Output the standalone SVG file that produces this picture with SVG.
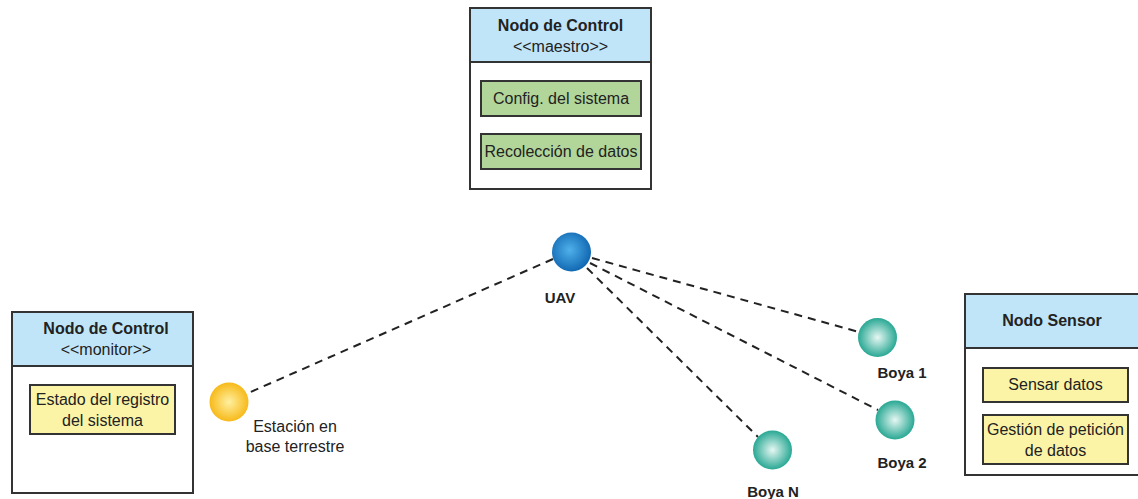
<svg xmlns="http://www.w3.org/2000/svg" width="1138" height="499" viewBox="0 0 1138 499">
  <style>
    .frame { fill: #ffffff; stroke: #333333; stroke-width: 2; }
    .head { fill: #c0e5f8; stroke: #333333; stroke-width: 2; }
    .green { fill: #b2d69a; stroke: #333333; stroke-width: 2; }
    .yellow { fill: #fbf4a6; stroke: #333333; stroke-width: 2; }
    .title { font-family: "Liberation Sans", Arial, sans-serif; font-size: 16px; font-weight: bold; fill: #222222; text-anchor: middle; }
    .txt { font-family: "Liberation Sans", Arial, sans-serif; font-size: 16px; fill: #222222; text-anchor: middle; }
    .lbl { font-family: "Liberation Sans", Arial, sans-serif; font-size: 15px; font-weight: bold; fill: #222222; text-anchor: middle; }
    .link { stroke: #222222; stroke-width: 2; stroke-dasharray: 8 6; fill: none; }
  </style>
  <defs>
    <radialGradient id="gBlue" cx="0.45" cy="0.45" r="0.55">
      <stop offset="0" stop-color="#4fb0ea"/>
      <stop offset="1" stop-color="#1269b3"/>
    </radialGradient>
    <radialGradient id="gSun" cx="0.5" cy="0.5" r="0.55">
      <stop offset="0" stop-color="#fff0a0"/>
      <stop offset="1" stop-color="#f6b40c"/>
    </radialGradient>
    <radialGradient id="gSea" cx="0.5" cy="0.5" r="0.55">
      <stop offset="0" stop-color="#e6f7f3"/>
      <stop offset="1" stop-color="#16a08a"/>
    </radialGradient>
  </defs>

  <!-- dashed wireless links from the UAV -->
  <g id="connectors">
    <line class="link" x1="553" y1="259" x2="246" y2="394"/>
    <line class="link" x1="592" y1="258" x2="859" y2="332"/>
    <line class="link" x1="590" y1="263" x2="878" y2="410"/>
    <line class="link" x1="587" y1="268" x2="758" y2="437"/>
  </g>

  <!-- master control node -->
  <g id="nodo-control-maestro">
    <rect class="frame" x="470" y="8" width="181" height="181"/>
    <rect class="head" x="470" y="8" width="181" height="54"/>
    <text class="title" x="560.5" y="31">Nodo de Control</text>
    <text class="txt" x="560.5" y="52">&lt;&lt;maestro&gt;&gt;</text>
    <rect class="green" x="481" y="81" width="160" height="35"/>
    <text class="txt" x="561" y="104">Config. del sistema</text>
    <rect class="green" x="481" y="134" width="160" height="35"/>
    <text class="txt" x="561" y="157">Recolección de datos</text>
  </g>

  <!-- monitor control node -->
  <g id="nodo-control-monitor">
    <rect class="frame" x="12" y="312" width="181" height="181"/>
    <rect class="head" x="12" y="312" width="181" height="54"/>
    <text class="title" x="106" y="334">Nodo de Control</text>
    <text class="txt" x="106" y="355">&lt;&lt;monitor&gt;&gt;</text>
    <rect class="yellow" x="30" y="385" width="145" height="49"/>
    <text class="txt" x="102.5" y="405">Estado del registro</text>
    <text class="txt" x="102.5" y="426">del sistema</text>
  </g>

  <!-- sensor node -->
  <g id="nodo-sensor">
    <rect class="frame" x="965" y="294" width="180" height="181"/>
    <rect class="head" x="965" y="294" width="180" height="54"/>
    <text class="title" x="1052" y="326">Nodo Sensor</text>
    <rect class="yellow" x="983" y="368" width="145" height="34"/>
    <text class="txt" x="1055.5" y="390">Sensar datos</text>
    <rect class="yellow" x="983" y="415" width="145" height="49"/>
    <text class="txt" x="1055.5" y="435">Gestión de petición</text>
    <text class="txt" x="1055.5" y="456">de datos</text>
  </g>

  <g id="uav">
    <circle cx="571.5" cy="252" r="19.5" fill="url(#gBlue)"/>
    <text class="lbl" x="560" y="303">UAV</text>
  </g>

  <g id="estacion">
    <circle cx="229" cy="402" r="19.5" fill="url(#gSun)"/>
    <text class="txt" x="295" y="432">Estación en</text>
    <text class="txt" x="295" y="452">base terrestre</text>
  </g>

  <g id="boya-1">
    <circle cx="877.5" cy="337.5" r="19.5" fill="url(#gSea)"/>
    <text class="lbl" x="902" y="378">Boya 1</text>
  </g>

  <g id="boya-2">
    <circle cx="895" cy="420" r="19.5" fill="url(#gSea)"/>
    <text class="lbl" x="902" y="468">Boya 2</text>
  </g>

  <g id="boya-n">
    <circle cx="772.5" cy="450" r="19.5" fill="url(#gSea)"/>
    <text class="lbl" x="773" y="497">Boya N</text>
  </g>
</svg>
